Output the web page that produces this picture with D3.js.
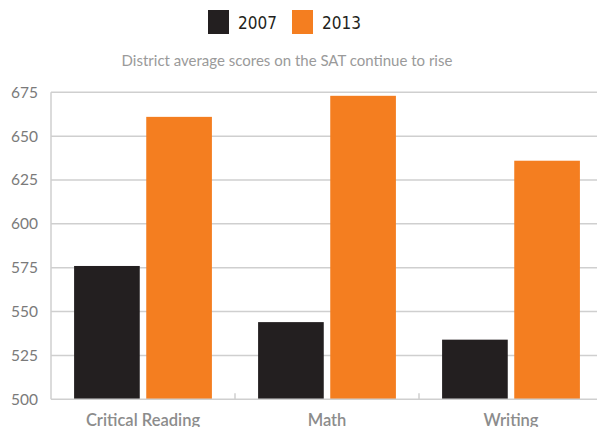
<!DOCTYPE html>
<html><head><meta charset="utf-8">
<script src="https://cdn.jsdelivr.net/npm/d3@7"></script>
<style>body{margin:0;background:#fff}svg{display:block}</style>
</head><body>
<svg id="c" width="597" height="427"></svg>
<script>
const categories = ["Critical Reading", "Math", "Writing"];
const seriesNames = ["2007", "2013"];
const values2007 = [576, 544, 534];
const values2013 = [661, 673, 636];
const yTicks = [500, 525, 550, 575, 600, 625, 650, 675];
const colors = ["#231f20", "#f47e20"];

(function(){
const svg = d3.select("#c");
const font = "Lato, 'Open Sans', sans-serif";
const pLeft = 51, pRight = 603, pTop = 92.3, pBottom = 399.3;

const x0 = d3.scaleBand().domain(categories).range([pLeft, pRight]).paddingInner(0).paddingOuter(0);
const x1 = d3.scaleBand().domain(seriesNames).range([0, x0.bandwidth()]).paddingInner(0.09).paddingOuter(0.32);
const y = d3.scaleLinear().domain([500, 675]).range([pBottom, pTop]);

svg.append("g").selectAll("line").data(yTicks.slice(1)).join("line")
  .attr("x1", pLeft).attr("x2", 597).attr("y1", d => y(d)).attr("y2", d => y(d))
  .attr("stroke", "#cfcfcf").attr("stroke-width", 1.5);

const yAxis = d3.axisLeft(y).tickValues(yTicks).tickSize(0).tickPadding(13);
const gy = svg.append("g").attr("transform", `translate(${pLeft},0)`).call(yAxis);
gy.select(".domain").remove();
gy.selectAll("text").attr("font-family", font).attr("font-size", 15.5).attr("fill", "#7a7a7a");

const data = categories.map((c, i) => ({c, v: [values2007[i], values2013[i]]}));
svg.append("g").selectAll("g").data(data).join("g")
  .attr("transform", d => `translate(${x0(d.c)},0)`)
  .selectAll("rect").data(d => d.v.map((v, j) => ({s: seriesNames[j], v, j}))).join("rect")
  .attr("x", d => x1(d.s)).attr("width", x1.bandwidth())
  .attr("y", d => y(d.v)).attr("height", d => y(500) - y(d.v))
  .attr("fill", d => colors[d.j]);

svg.append("line").attr("x1", pLeft).attr("x2", pLeft).attr("y1", pTop).attr("y2", pBottom)
  .attr("stroke", "#cfcfcf").attr("stroke-width", 1.5);
svg.append("line").attr("x1", pLeft).attr("x2", 597).attr("y1", pBottom).attr("y2", pBottom)
  .attr("stroke", "#cfcfcf").attr("stroke-width", 1.5);
svg.append("g").selectAll("line").data(categories.slice(1)).join("line")
  .attr("x1", d => x0(d)).attr("x2", d => x0(d)).attr("y1", pBottom).attr("y2", pBottom - 6)
  .attr("stroke", "#cfcfcf").attr("stroke-width", 1.5);

const xAxis = d3.axisBottom(x0).tickSize(0);
const gx = svg.append("g").attr("transform", `translate(0,${pBottom})`).call(xAxis);
gx.select(".domain").remove();
gx.selectAll("text").attr("y", 26.5).attr("dy", null).attr("font-family", font).attr("font-size", 16.5)
  .attr("fill", "#8c8c8c").attr("font-weight", 600);

svg.append("text").attr("x", 287).attr("y", 66).attr("text-anchor", "middle")
  .attr("font-family", font).attr("font-size", 15).attr("fill", "#9a9a9a")
  .text("District average scores on the SAT continue to rise");

const lg = svg.append("g").selectAll("g").data(seriesNames).join("g")
  .attr("transform", (d, i) => `translate(${208 + i * 84},10)`);
lg.append("rect").attr("width", 21).attr("height", 24).attr("fill", (d, i) => colors[i]);
lg.append("text").attr("x", 30).attr("y", 19).attr("font-family", "'Liberation Sans Narrow', 'DejaVu Sans Condensed', sans-serif").attr("font-size", 17)
  .attr("fill", "#231f20").text(d => d);
})();
</script>
</body></html>
